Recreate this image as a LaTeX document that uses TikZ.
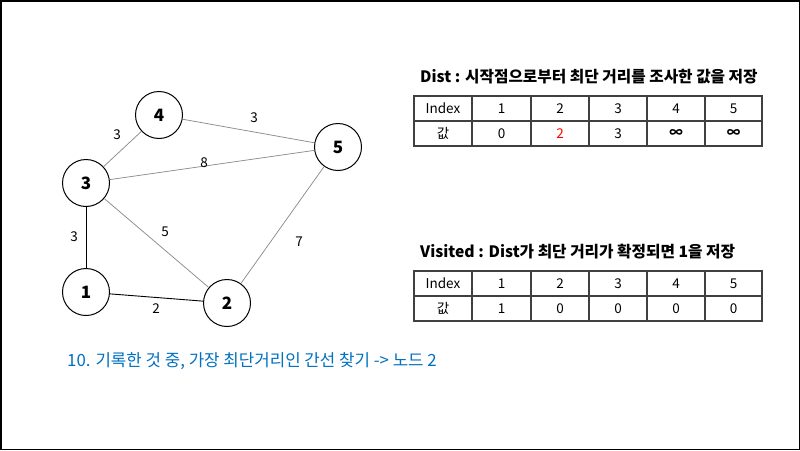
\documentclass[tikz,border=0pt]{standalone}
\usepackage{fontspec}
\setmainfont{Noto Sans CJK KR}
\definecolor{tblue}{HTML}{0070C0}
\definecolor{tgray}{HTML}{404040}
\definecolor{egray}{HTML}{8C8C8C}
\begin{document}
\begin{tikzpicture}[x=1pt,y=-1pt,
  gnode/.style={draw=black,circle,line width=1pt,minimum size=47pt,inner sep=0pt,font=\bfseries\fontsize{17}{17}\selectfont},
  gedge/.style={draw=egray,line width=0.75pt},
  bedge/.style={draw=black,line width=0.9pt},
  elabel/.style={inner sep=0pt,font=\fontsize{13.5}{13.5}\selectfont},
  tline/.style={draw=tgray,line width=1.3pt},
  cell/.style={inner sep=0pt,font=\fontsize{13.5}{13.5}\selectfont},
  ttitle/.style={anchor=west,inner sep=0pt,font=\bfseries\fontsize{15.7}{15.7}\selectfont}]
\useasboundingbox (0,0) rectangle (800,450);
\draw[line width=1.5pt] (0.75,0.75) rectangle (799.25,449.25);
% graph
\node[gnode] (n4) at (159,115) {4};
\node[gnode] (n5) at (338,147) {5};
\node[gnode] (n3) at (86,183) {3};
\node[gnode] (n1) at (86,292) {1};
\node[gnode] (n2) at (227,303) {2};
\draw[gedge] (n3) -- (n4);
\draw[gedge] (n4) -- (n5);
\draw[gedge] (n3) -- (n5);
\draw[gedge] (n3) -- (n2);
\draw[gedge] (n5) -- (n2);
\draw[bedge] (n3) -- (n1);
\draw[bedge] (n1) -- (n2);
\node[elabel] (l34) at (117,135) {3};
\node[elabel] (l45) at (254,118) {3};
\node[elabel] (l35) at (204,163) {8};
\node[elabel] (l32) at (165,232) {5};
\node[elabel] (l52) at (299,242) {7};
\node[elabel] (l31) at (74,237) {3};
\node[elabel] (l12) at (156,309) {2};
% table 1
\node[ttitle] (t1) at (420,77) {Dist : 시작점으로부터 최단 거리를 조사한 값을 저장};
\draw[tline] (414,96) rectangle (762,146);
\draw[tline] (414,121) -- (762,121);
\foreach \x in {472,531,589,647,705} \draw[tline] (\x,96) -- (\x,146);
\node[cell] (a0) at (443,108.5) {Index};
\node[cell] (a1) at (501.5,108.5) {1};
\node[cell] (a2) at (560,108.5) {2};
\node[cell] (a3) at (618,108.5) {3};
\node[cell] (a4) at (676,108.5) {4};
\node[cell] (a5) at (733.5,108.5) {5};
\node[cell] (b0) at (443,133.5) {값};
\node[cell] (b1) at (501.5,133.5) {0};
\node[cell,text=red] (b2) at (560,133.5) {2};
\node[cell] (b3) at (618,133.5) {3};
\node[cell,font=\bfseries\fontsize{13.5}{13.5}\selectfont] (b4) at (676,133.5) {∞};
\node[cell,font=\bfseries\fontsize{13.5}{13.5}\selectfont] (b5) at (733.5,133.5) {∞};
% table 2
\node[ttitle] (t2) at (420,252) {Visited : Dist가 최단 거리가 확정되면 1을 저장};
\draw[tline] (414,271) rectangle (762,321);
\draw[tline] (414,296) -- (762,296);
\foreach \x in {472,531,589,647,705} \draw[tline] (\x,271) -- (\x,321);
\node[cell] (c0) at (443,283.5) {Index};
\node[cell] (c1) at (501.5,283.5) {1};
\node[cell] (c2) at (560,283.5) {2};
\node[cell] (c3) at (618,283.5) {3};
\node[cell] (c4) at (676,283.5) {4};
\node[cell] (c5) at (733.5,283.5) {5};
\node[cell] (d0) at (443,308.5) {값};
\node[cell] (d1) at (501.5,308.5) {1};
\node[cell] (d2) at (560,308.5) {0};
\node[cell] (d3) at (618,308.5) {0};
\node[cell] (d4) at (676,308.5) {0};
\node[cell] (d5) at (733.5,308.5) {0};
% bottom note
\node[anchor=west,inner sep=0pt,text=tblue,font=\fontsize{16.8}{16.8}\selectfont] (note) at (67,361) {10. 기록한 것 중, 가장 최단거리인 간선 찾기 -> 노드 2};
\end{tikzpicture}
\end{document}
